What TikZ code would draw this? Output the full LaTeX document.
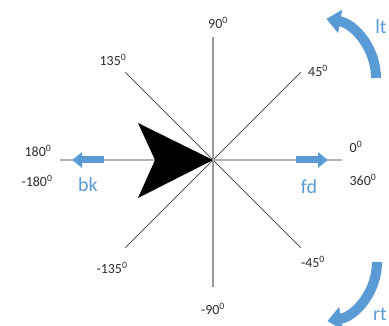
\documentclass[tikz,border=0pt]{standalone}
\usepackage{fontspec}
\setmainfont{Carlito}
\usepackage{tikz}
\usetikzlibrary{arrows.meta, positioning, calc}
\usepackage{xcolor}
\definecolor{myblue}{RGB}{91, 155, 213}
\definecolor{mytext}{RGB}{45, 45, 45}

\begin{document}
\begin{tikzpicture}[x=1bp, y=1bp,
    deg/.style={text=mytext, font=\fontsize{14}{16}\selectfont, inner sep=0pt},
    cmd/.style={text=myblue, font=\fontsize{20}{22}\selectfont, inner sep=0pt},
    diag/.style={draw=black!65, line width=1bp},
    axis/.style={draw=black!40, line width=1.3bp},
    move/.style={myblue, line width=7bp, -{Triangle[length=10bp, width=15bp]}},
    turn/.style={myblue, line width=10bp, -{Triangle[length=14bp, width=23bp]}}]
        \useasboundingbox (0,0) rectangle (389,326);
        % Center and axis ends
        \coordinate (o) at (213,166);
        \coordinate (up) at (213,289);
        \coordinate (down) at (213,39);
        \coordinate (left) at (60,166);
        \coordinate (right) at (342,166);
        % Diagonals
        \draw[diag] (o) -- ++(45:124) coordinate (ne);
        \draw[diag] (o) -- ++(135:124) coordinate (nw);
        \draw[diag] (o) -- ++(-135:124) coordinate (sw);
        \draw[diag] (o) -- ++(-45:124) coordinate (se);
        % Axes
        \draw[axis] (up) -- (down);
        \draw[axis, draw=black!30, line width=2.2bp] (left) -- (right);
        % Turtle
        \fill[black] (o) -- (138,203) -- (155,166) -- (138,128) -- cycle;
        % Angle labels
        \node[deg] (lbl90) at (218,303) {90\textsuperscript{0}};
        \node[deg] (lbl135) at (113,266) {135\textsuperscript{0}};
        \node[deg] (lbl45) at (318,255) {45\textsuperscript{0}};
        \node[deg] (lbl180) at (38,175) {180\textsuperscript{0}};
        \node[deg] (lblm180) at (37,145) {-180\textsuperscript{0}};
        \node[deg] (lbl0) at (356,179) {0\textsuperscript{0}};
        \node[deg] (lbl360) at (363,146) {360\textsuperscript{0}};
        \node[deg] (lblm135) at (112,58) {-135\textsuperscript{0}};
        \node[deg] (lblm45) at (313,64) {-45\textsuperscript{0}};
        \node[deg] (lblm90) at (213,17) {-90\textsuperscript{0}};
        % Moves
        \coordinate (bkstart) at (104,166);
        \coordinate (bkend) at (72,166);
        \coordinate (fdstart) at (296,166);
        \coordinate (fdend) at (328,166);
        \draw[move] (bkstart) -- (bkend);
        \draw[move] (fdstart) -- (fdend);
        \node[cmd] (bk) at (88,141) {bk};
        \node[cmd] (fd) at (309,139) {fd};
        % Turns
        \coordinate (ltstart) at (376,248);
        \coordinate (rtstart) at (377,64);
        \draw[turn] (ltstart) arc (0:80:60);
        \draw[turn] (rtstart) arc (0:-80:60);
        \node[cmd] (lt) at (381,299) {lt};
        \node[cmd] (rt) at (380,12) {rt};
    \end{tikzpicture}
\end{document}
